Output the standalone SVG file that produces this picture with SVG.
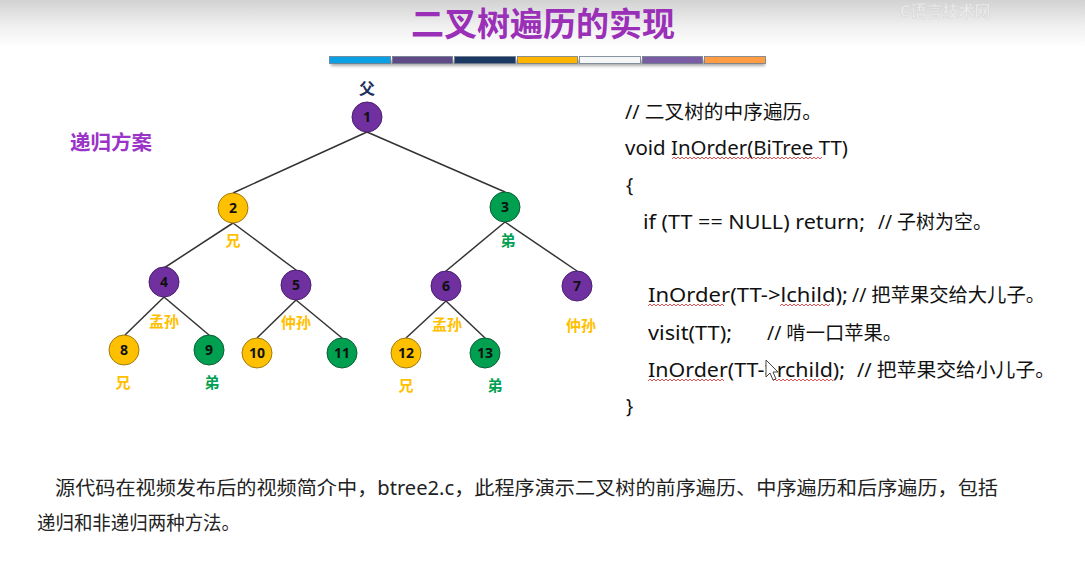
<svg xmlns="http://www.w3.org/2000/svg" width="1085" height="564" viewBox="0 0 1085 564">
  <defs>
    <linearGradient id="topShade" x1="0" y1="0" x2="0" y2="1">
      <stop offset="0" stop-color="#d2d2d2"/>
      <stop offset="0.55" stop-color="#f0f0f0"/>
      <stop offset="1" stop-color="#ffffff"/>
    </linearGradient>
    <filter id="soft" x="-10%" y="-50%" width="120%" height="200%">
      <feGaussianBlur stdDeviation="1.6"/>
    </filter>
    <style>
      .title { font-family: "Noto Sans CJK SC", sans-serif; font-weight: 700; font-size: 33px; fill: #9a2fb8; }
      .head { font-family: "Noto Sans CJK SC", sans-serif; font-weight: 700; font-size: 20px; fill: #9a33c8; }
      .edge { stroke: #333333; stroke-width: 1.5; fill: none; }
      .purple { fill: #7030a0; stroke: #4a1f70; stroke-width: 1; }
      .yellow { fill: #ffc000; stroke: #a07a10; stroke-width: 1; }
      .green { fill: #00a050; stroke: #0a5f34; stroke-width: 1; }
      .num { font-family: "Noto Sans", "DejaVu Sans", sans-serif; font-weight: 700; font-size: 14px; fill: #111111; text-anchor: middle; }
      .lab { font-family: "Noto Sans CJK SC", sans-serif; font-weight: 700; font-size: 15px; text-anchor: middle; }
      .ly { fill: #ffc000; }
      .lg { fill: #00a050; }
      .ln { fill: #1f3060; font-size: 16px; }
      .code { font-family: "Noto Sans", "Noto Sans CJK SC", sans-serif; font-size: 19px; fill: #111111; }
      .body { font-family: "Noto Sans", "Noto Sans CJK SC", sans-serif; font-size: 19px; fill: #222222; }
      .squig { stroke: #e04040; stroke-width: 0.9; fill: none; }
      .bar { stroke: #6f7d8c; stroke-width: 0.8; }
    </style>
  </defs>

  <!-- page background with soft top shading -->
  <rect x="0" y="0" width="1085" height="564" fill="#ffffff"/>
  <rect x="0" y="0" width="1085" height="48" fill="url(#topShade)"/>

  <!-- faint channel mark, top right -->
  <text x="900" y="17" font-family="Noto Sans CJK SC, sans-serif" font-weight="700" font-size="16" fill="#eeeeee" stroke="#cfcfcf" stroke-width="0.4" opacity="0.8">C语言技术网</text>

  <!-- title -->
  <text class="title" x="543" y="36" text-anchor="middle">二叉树遍历的实现</text>

  <!-- decorative colour strip -->
  <g id="colour-strip">
    <rect x="331" y="60" width="434" height="6" fill="#8a8a8a" filter="url(#soft)" opacity="0.7"/>
    <rect class="bar" x="329.5" y="56.5" width="61" height="7" fill="#0aa0e6"/>
    <rect class="bar" x="392.5" y="56.5" width="60" height="7" fill="#5e4a86"/>
    <rect class="bar" x="454.5" y="56.5" width="61" height="7" fill="#1b3763"/>
    <rect class="bar" x="517.5" y="56.5" width="60" height="7" fill="#ffb400"/>
    <rect class="bar" x="579.5" y="56.5" width="61" height="7" fill="#f4f6f8"/>
    <rect class="bar" x="642.5" y="56.5" width="60" height="7" fill="#7a5ca4"/>
    <rect class="bar" x="704.5" y="56.5" width="61" height="7" fill="#ff9d45"/>
  </g>

  <!-- section heading -->
  <text class="head" x="70" y="150" textLength="82" lengthAdjust="spacingAndGlyphs">递归方案</text>

  <!-- tree connectors -->
  <g id="connectors">
    <line class="edge" x1="367" y1="132" x2="233" y2="193"/>
    <line class="edge" x1="367" y1="132" x2="505" y2="192"/>
    <line class="edge" x1="233" y1="223" x2="164" y2="268"/>
    <line class="edge" x1="233" y1="223" x2="296" y2="270"/>
    <line class="edge" x1="505" y1="222" x2="446" y2="271"/>
    <line class="edge" x1="505" y1="222" x2="577" y2="271"/>
    <line class="edge" x1="164" y1="297" x2="125" y2="335"/>
    <line class="edge" x1="164" y1="297" x2="209" y2="335"/>
    <line class="edge" x1="296" y1="300" x2="257" y2="338"/>
    <line class="edge" x1="296" y1="300" x2="342" y2="338"/>
    <line class="edge" x1="446" y1="301" x2="406" y2="338"/>
    <line class="edge" x1="446" y1="301" x2="485" y2="338"/>
  </g>

  <!-- tree nodes -->
  <g id="n1"><circle class="purple" cx="367" cy="117" r="15"/><text class="num" x="367" y="122">1</text></g>
  <g id="n2"><circle class="yellow" cx="233" cy="208" r="15"/><text class="num" x="233" y="213">2</text></g>
  <g id="n3"><circle class="green" cx="505" cy="207" r="15"/><text class="num" x="505" y="212">3</text></g>
  <g id="n4"><circle class="purple" cx="164" cy="282" r="15"/><text class="num" x="164" y="287">4</text></g>
  <g id="n5"><circle class="purple" cx="296" cy="285" r="15"/><text class="num" x="296" y="290">5</text></g>
  <g id="n6"><circle class="purple" cx="446" cy="286" r="15"/><text class="num" x="446" y="291">6</text></g>
  <g id="n7"><circle class="purple" cx="577" cy="286" r="15"/><text class="num" x="577" y="291">7</text></g>
  <g id="n8"><circle class="yellow" cx="124" cy="350" r="15"/><text class="num" x="124" y="355">8</text></g>
  <g id="n9"><circle class="green" cx="209" cy="350" r="15"/><text class="num" x="209" y="355">9</text></g>
  <g id="n10"><circle class="yellow" cx="257" cy="353" r="15"/><text class="num" x="257" y="358">10</text></g>
  <g id="n11"><circle class="green" cx="342" cy="353" r="15"/><text class="num" x="342" y="358">11</text></g>
  <g id="n12"><circle class="yellow" cx="406" cy="353" r="15"/><text class="num" x="406" y="358">12</text></g>
  <g id="n13"><circle class="green" cx="485" cy="353" r="15"/><text class="num" x="485" y="358">13</text></g>

  <!-- kinship labels -->
  <g id="labels">
    <text class="lab ln" x="367" y="94">父</text>
    <text class="lab ly" x="233" y="246">兄</text>
    <text class="lab lg" x="508" y="246">弟</text>
    <text class="lab ly" x="164" y="327">孟孙</text>
    <text class="lab ly" x="296" y="328">仲孙</text>
    <text class="lab ly" x="447" y="330">孟孙</text>
    <text class="lab ly" x="581" y="331">仲孙</text>
    <text class="lab ly" x="123" y="388">兄</text>
    <text class="lab lg" x="212" y="388">弟</text>
    <text class="lab ly" x="406" y="391">兄</text>
    <text class="lab lg" x="495" y="391">弟</text>
  </g>

  <!-- in-order traversal code -->
  <g id="code">
    <text class="code" x="625" y="119" textLength="197" lengthAdjust="spacingAndGlyphs">// 二叉树的中序遍历。</text>
    <text class="code" x="625" y="155" textLength="223" lengthAdjust="spacingAndGlyphs">void InOrder(BiTree TT)</text>
    <text class="code" x="626" y="192">{</text>
    <text class="code" x="643" y="229" textLength="222" lengthAdjust="spacingAndGlyphs">if (TT == NULL) return;</text>
    <text class="code" x="878" y="229" textLength="114" lengthAdjust="spacingAndGlyphs">// 子树为空。</text>
    <text class="code" x="648" y="302" textLength="200" lengthAdjust="spacingAndGlyphs">InOrder(TT-&gt;lchild);</text>
    <text class="code" x="852" y="302" textLength="193" lengthAdjust="spacingAndGlyphs">// 把苹果交给大儿子。</text>
    <text class="code" x="648" y="340" textLength="84" lengthAdjust="spacingAndGlyphs">visit(TT);</text>
    <text class="code" x="767" y="340" textLength="135" lengthAdjust="spacingAndGlyphs">// 啃一口苹果。</text>
    <text class="code" x="648" y="377" textLength="197" lengthAdjust="spacingAndGlyphs">InOrder(TT-&gt;rchild);</text>
    <text class="code" x="857" y="377" textLength="198" lengthAdjust="spacingAndGlyphs">// 把苹果交给小儿子。</text>
    <text class="code" x="626" y="413">}</text>

    <!-- spell-check underlines -->
    <path class="squig" d="M672 159 l2 -2 l2 2 l2 -2 l2 2 l2 -2 l2 2 l2 -2 l2 2 l2 -2 l2 2 l2 -2 l2 2 l2 -2 l2 2 l2 -2 l2 2 l2 -2 l2 2 l2 -2 l2 2 l2 -2 l2 2 l2 -2 l2 2 l2 -2 l2 2 l2 -2 l2 2 l2 -2 l2 2 l2 -2 l2 2 l2 -2 l2 2 l2 -2 l2 2 l2 -2 l2 2 l2 -2 l2 2 l2 -2 l2 2 l2 -2 l2 2 l2 -2 l2 2 l2 -2 l2 2 l2 -2 l2 2 l2 -2 l2 2 l2 -2 l2 2 l2 -2 l2 2 l2 -2 l2 2 l2 -2 l2 2 l2 -2 l2 2 l2 -2 l2 2 l2 -2 l2 2 l2 -2 l2 2 l2 -2 l2 2 l2 -2 l2 2 l2 -2 l2 2 l2 -2"/>
    <path class="squig" d="M648 306 l2 -2 l2 2 l2 -2 l2 2 l2 -2 l2 2 l2 -2 l2 2 l2 -2 l2 2 l2 -2 l2 2 l2 -2 l2 2 l2 -2 l2 2 l2 -2 l2 2 l2 -2 l2 2 l2 -2 l2 2 l2 -2 l2 2 l2 -2 l2 2 l2 -2 l2 2 l2 -2 l2 2 l2 -2 l2 2 l2 -2 l2 2 l2 -2 l2 2 l2 -2 l2 2"/>
    <path class="squig" d="M780 306 l2 -2 l2 2 l2 -2 l2 2 l2 -2 l2 2 l2 -2 l2 2 l2 -2 l2 2 l2 -2 l2 2 l2 -2 l2 2 l2 -2 l2 2 l2 -2 l2 2 l2 -2 l2 2 l2 -2 l2 2 l2 -2 l2 2 l2 -2"/>
    <path class="squig" d="M648 381 l2 -2 l2 2 l2 -2 l2 2 l2 -2 l2 2 l2 -2 l2 2 l2 -2 l2 2 l2 -2 l2 2 l2 -2 l2 2 l2 -2 l2 2 l2 -2 l2 2 l2 -2 l2 2 l2 -2 l2 2 l2 -2 l2 2 l2 -2 l2 2 l2 -2 l2 2 l2 -2 l2 2 l2 -2 l2 2 l2 -2 l2 2 l2 -2 l2 2 l2 -2 l2 2"/>
    <path class="squig" d="M773 381 l2 -2 l2 2 l2 -2 l2 2 l2 -2 l2 2 l2 -2 l2 2 l2 -2 l2 2 l2 -2 l2 2 l2 -2 l2 2 l2 -2 l2 2 l2 -2 l2 2 l2 -2 l2 2 l2 -2 l2 2 l2 -2 l2 2 l2 -2 l2 2 l2 -2 l2 2 l2 -2 l2 2"/>

    <!-- mouse pointer -->
    <path d="M766 360 L766 377 L770 373 L773 380 L776 379 L773 372 L778 372 Z" fill="#ffffff" stroke="#444444" stroke-width="1" stroke-linejoin="round"/>
  </g>

  <!-- footnote -->
  <g id="note">
    <text class="body" x="55" y="495" textLength="943" lengthAdjust="spacingAndGlyphs">源代码在视频发布后的视频简介中，btree2.c，此程序演示二叉树的前序遍历、中序遍历和后序遍历，包括</text>
    <text class="body" x="37" y="530" textLength="203" lengthAdjust="spacingAndGlyphs">递归和非递归两种方法。</text>
  </g>
</svg>
